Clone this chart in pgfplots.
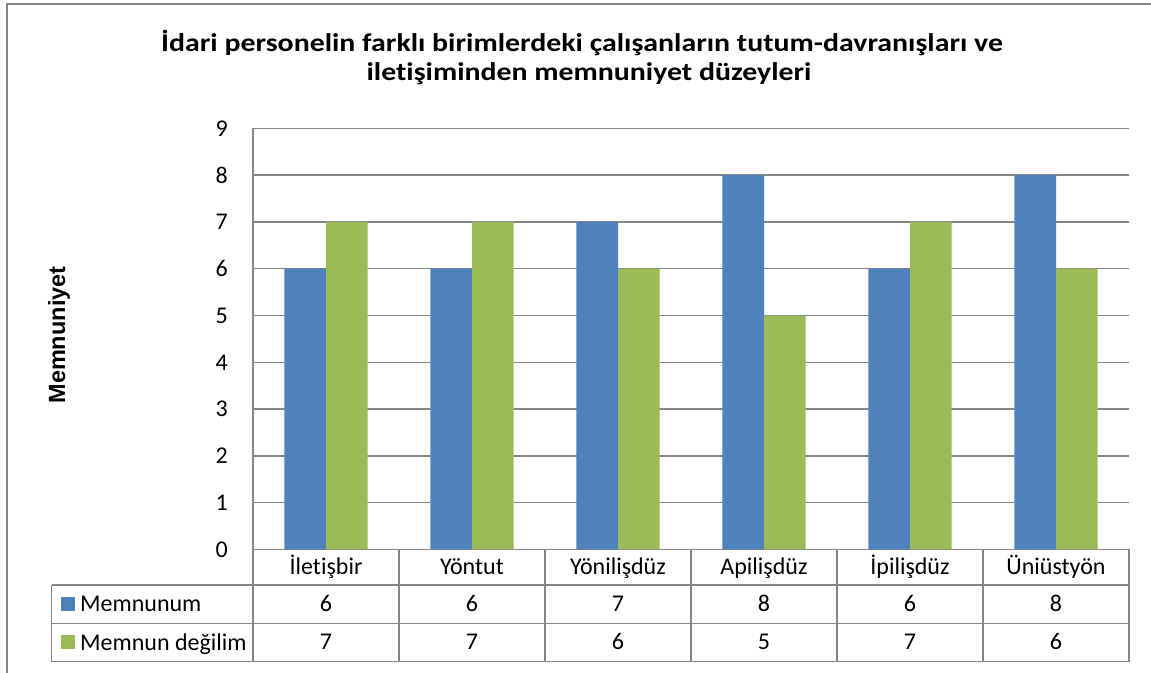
\documentclass[border=0pt]{standalone}
\usepackage{pgfplots}
\pgfplotsset{compat=1.18}
\usepackage{pgfplotstable}
\usepackage{fontspec}
\setmainfont{Carlito}[Ligatures=NoCommon]
\newfontfamily\titlefont{Carlito}[FakeStretch=1.17, Ligatures=NoCommon]
\newfontfamily\labfont{Liberation Sans}
\definecolor{barblue}{RGB}{79,129,189}
\definecolor{bargreen}{RGB}{155,187,89}
\definecolor{linegray}{RGB}{134,134,134}

\pgfplotstableread{
x a b
0.5 6 7
1.5 6 7
2.5 7 6
3.5 8 5
4.5 6 7
5.5 8 6
}\data

\newcommand{\fs}{\fontsize{24}{28}\selectfont}

\begin{document}
\begin{tikzpicture}[x=1pt,y=1pt]
\useasboundingbox (0,0) rectangle (1151,672);
\fill[white] (0,0) rectangle (1151,672);
\draw[linegray, line width=1.5pt] (7,-5) -- (7,668) -- (1160,668);
\node[font=\titlefont\bfseries\fontsize{25.5}{30}\selectfont, anchor=base] at (582,620) {İdari personelin farklı birimlerdeki çalışanların tutum-davranışları ve};
\node[font=\titlefont\bfseries\fontsize{25.5}{30}\selectfont, anchor=base] at (589,591) {iletişiminden memnuniyet düzeyleri};
\node[rotate=90, font=\labfont\bfseries\fontsize{23.5}{27}\selectfont] at (59,337) {Memnuniyet};

\begin{axis}[
  at={(253pt,122.5pt)}, anchor=south west,
  scale only axis, width=876pt, height=421.2pt,
  xmin=0, xmax=6, ymin=0, ymax=9,
  ytick={0,...,9},
  xtick={0.5,1.5,2.5,3.5,4.5,5.5},
  xticklabels={İletişbir,Yöntut,Yönilişdüz,Apilişdüz,İpilişdüz,Üniüstyön},
  axis lines*=left,
  axis line style={linegray, line width=1.5pt, -},
  major tick length=0pt,
  ymajorgrids, grid style={linegray, line width=1.5pt},
  tick label style={font=\fs},
  yticklabel style={anchor=east, inner sep=0pt, xshift=-25pt},
  xticklabel style={anchor=base, inner sep=0pt, yshift=-25.5pt},
  /pgf/number format/assume math mode=true,
  clip=false,
]
\addplot[ybar, bar width=41.7pt, bar shift=-20.85pt, fill=barblue, draw=none] table[x=x,y=a]{\data};
\addplot[ybar, bar width=41.7pt, bar shift=20.85pt, fill=bargreen, draw=none] table[x=x,y=b]{\data};
\addplot[draw=none, mark=none, nodes near coords, point meta=explicit,
  nodes near coords style={anchor=base, inner sep=0pt, font=\fs, text=black}]
  table[x=x, y expr=-1.329, meta=a]{\data};
\addplot[draw=none, mark=none, nodes near coords, point meta=explicit,
  nodes near coords style={anchor=base, inner sep=0pt, font=\fs, text=black}]
  table[x=x, y expr=-2.147, meta=b]{\data};
\end{axis}

% data table grid
\begin{scope}[linegray, line width=1.5pt]
\draw (51.7,87) -- (1129,87);
\draw (51.7,48.7) -- (1129,48.7);
\draw (51.7,10.3) -- (1129,10.3);
\draw (51.7,87) -- (51.7,10.3);
\foreach \xx in {253,399,545,691,837,983,1129} {\draw (\xx,122.5) -- (\xx,10.3);}
\end{scope}
\fill[barblue] (61,61) rectangle (75,75);
\fill[bargreen] (61,23) rectangle (75,37);
\node[anchor=base west, inner sep=0pt, font=\fs] at (80,60.3) {Memnunum};
\node[anchor=base west, inner sep=0pt, font=\fs] at (80,22) {Memnun değilim};
\end{tikzpicture}
\end{document}
